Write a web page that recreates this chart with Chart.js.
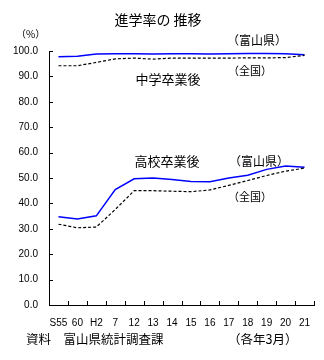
<!DOCTYPE html>
<html>
<head>
<meta charset="utf-8">
<script src="https://cdn.jsdelivr.net/npm/chart.js@4.4.1/dist/chart.umd.min.js"></script>
<style>
  html, body { margin: 0; padding: 0; background: #fff; }
  #wrap { width: 324px; height: 360px; position: relative; }
</style>
</head>
<body>
<div id="wrap"><canvas id="c" width="324" height="360"></canvas></div>
<script>
const categories = ['S55', '60', 'H2', '7', '12', '13', '14', '15', '16', '17', '18', '19', '20', '21'];
const juniorToyama   = [97.7, 97.9, 98.8, 98.9, 98.9, 98.8, 98.9, 98.9, 98.8, 98.9, 99.0, 99.0, 98.9, 98.5];
const juniorNational = [94.2, 94.2, 95.5, 96.9, 97.2, 96.8, 97.2, 97.2, 97.2, 97.2, 97.3, 97.3, 97.4, 98.3];
const highToyama     = [34.7, 33.9, 35.1, 45.4, 49.7, 50.0, 49.4, 48.6, 48.5, 50.0, 51.1, 53.4, 54.7, 54.2];
const highNational   = [31.8, 30.4, 30.7, 37.6, 45.0, 45.0, 44.8, 44.6, 45.3, 47.1, 49.0, 51.0, 52.7, 53.9];
const yTickValues    = [0, 10, 20, 30, 40, 50, 60, 70, 80, 90, 100];

const JP = '"Noto Sans CJK JP", "Noto Sans CJK SC", sans-serif';
const NUM = '"Liberation Sans", Arial, sans-serif';

const texts = [
  { t: '進学率の 推移', x: 158, y: 20, size: 14, align: 'center' },
  { t: '（%）', x: 16, y: 34, size: 10, align: 'left' },
  { t: '（富山県）', x: 257, y: 40, size: 12, align: 'center' },
  { t: '（全国）', x: 250, y: 71, size: 11, align: 'center' },
  { t: '中学卒業後', x: 168, y: 79, size: 13, align: 'center' },
  { t: '高校卒業後', x: 167, y: 161, size: 13, align: 'center' },
  { t: '（富山県）', x: 259, y: 161, size: 12, align: 'center' },
  { t: '（全国）', x: 250, y: 197, size: 11, align: 'center' },
  { t: '資料　富山県統計調査課', x: 26, y: 339, size: 12.5, align: 'left' },
  { t: '（各年3月）', x: 228, y: 339, size: 12.5, align: 'left' }
];

const decor = {
  id: 'decor',
  afterDraw(chart) {
    const { ctx, chartArea: a, scales: { x, y } } = chart;
    ctx.save();
    ctx.strokeStyle = '#000';
    ctx.lineWidth = 1;
    ctx.beginPath();
    y.ticks.forEach((t, i) => {
      const py = Math.round(y.getPixelForTick(i)) + 0.5;
      ctx.moveTo(a.left, py);
      ctx.lineTo(a.left + 4, py);
    });
    const step = (a.right - a.left) / categories.length;
    for (let i = 0; i < categories.length; i++) {
      const px = Math.round(x.getPixelForValue(i) + step / 2) + 0.5;
      ctx.moveTo(px, a.bottom);
      ctx.lineTo(px, a.bottom - 4);
    }
    ctx.stroke();
    ctx.fillStyle = '#000';
    ctx.textBaseline = 'middle';
    texts.forEach(o => {
      ctx.font = o.size + 'px ' + JP;
      ctx.textAlign = o.align;
      ctx.fillText(o.t, o.x, o.y);
    });
    ctx.restore();
  }
};

const solid = (data) => ({
  data, borderColor: '#0000ff', borderWidth: 1.5, pointRadius: 0, tension: 0, fill: false
});
const dashed = (data) => ({
  data, borderColor: '#000000', borderWidth: 1.2, borderDash: [3, 2], pointRadius: 0, tension: 0, fill: false
});

new Chart(document.getElementById('c'), {
  type: 'line',
  data: {
    labels: categories,
    datasets: [
      dashed(juniorNational),
      solid(juniorToyama),
      dashed(highNational),
      solid(highToyama)
    ]
  },
  options: {
    responsive: false,
    animation: false,
    layout: { padding: { top: 51, right: 10, left: 0, bottom: 0 } },
    plugins: { legend: { display: false }, tooltip: { enabled: false }, title: { display: false } },
    scales: {
      x: {
        offset: true,
        grid: { display: false, drawTicks: false, offset: true },
        border: { display: true, color: '#000', width: 1 },
        ticks: { color: '#000', font: { family: NUM, size: 10 }, padding: 12, maxRotation: 0, autoSkip: false },
        afterFit: s => { s.height = 55; }
      },
      y: {
        min: 0, max: 100,
        afterBuildTicks: s => { s.ticks = yTickValues.map(v => ({ value: v })); },
        grid: { display: false, drawTicks: false },
        border: { display: true, color: '#000', width: 1 },
        ticks: { color: '#000', font: { family: NUM, size: 10 }, padding: 11, callback: v => Number(v).toFixed(1) },
        afterFit: s => { s.width = 49; }
      }
    }
  },
  plugins: [decor]
});
</script>
</body>
</html>
